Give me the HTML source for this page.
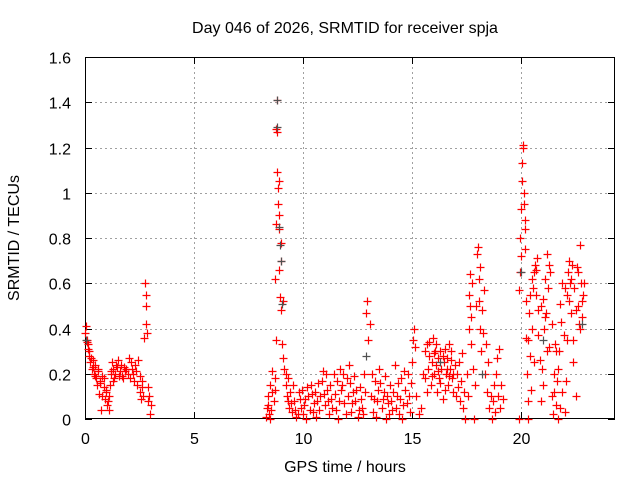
<!DOCTYPE html>
<html><head><meta charset="utf-8"><style>
html,body{margin:0;padding:0;background:#fff;}
svg{display:block;font-family:"Liberation Sans",sans-serif;}
</style></head><body>
<svg id="chart" width="640" height="480" viewBox="0 0 640 480" xmlns="http://www.w3.org/2000/svg">
<rect width="640" height="480" fill="#fff"/>
<g id="grid"></g>
<g id="axes"></g>
<g id="marks"></g>
<text x="345" y="33" font-size="16" text-anchor="middle" fill="#000">Day 046 of 2026, SRMTID for receiver spja</text>
<text x="345" y="472" font-size="16" text-anchor="middle" fill="#000">GPS time / hours</text>
<text transform="translate(19,238) rotate(-90)" font-size="16" text-anchor="middle" fill="#000">SRMTID / TECUs</text>
</svg>
<script>
const xTicks = [0, 5, 10, 15, 20];
const yTicks = [0, 0.2, 0.4, 0.6, 0.8, 1, 1.2, 1.4, 1.6];
const yTickLabels = ["0", "0.2", "0.4", "0.6", "0.8", "1", "1.2", "1.4", "1.6"];
const redTimes = [0.02,0.05,0.1,0.12,0.15,0.2,0.25,0.3,0.35,0.4,0.45,0.5,0.55,0.6,0.65,0.7,0.75,0.8,0.85,0.9,0.95,1.0,1.05,1.1,1.15,1.2,1.25,1.3,1.35,1.4,1.5,1.6,1.7,1.8,1.9,2.0,2.05,2.1,2.2,2.3,2.4,2.45,2.5,2.55,2.6,2.65,2.7,2.75,2.78,2.8,2.82,2.85,2.88,2.9,2.95,3.0,3.05,
0.08,0.18,0.28,0.38,0.48,0.58,0.68,0.78,0.88,0.98,1.08,1.18,1.28,1.38,1.45,1.55,1.65,1.75,1.85,1.95,2.15,2.25,2.35,2.5,2.62,
8.3,8.35,8.4,8.45,8.5,8.55,8.6,8.65,8.7,8.72,8.75,8.78,8.8,8.82,8.84,8.86,8.88,8.9,8.92,8.95,8.98,9.0,9.05,9.1,9.15,9.2,9.25,9.3,9.35,9.4,
8.4,8.5,8.6,8.7,8.75,8.8,8.9,9.0,9.1,9.2,9.3,
9.5,9.6,9.7,9.8,9.9,10.0,10.1,10.2,10.3,10.4,10.5,10.6,10.7,10.8,10.9,11.0,11.1,11.2,11.3,11.4,11.5,11.6,11.7,11.8,11.9,12.0,12.1,12.2,12.3,12.4,12.5,12.6,12.7,12.8,12.9,12.95,13.0,13.05,13.1,13.2,13.3,13.4,13.5,13.6,13.7,13.8,13.9,14.0,14.1,14.2,14.3,14.4,14.5,14.6,14.7,14.8,14.9,
9.45,9.55,9.65,9.75,9.85,9.95,10.05,10.15,10.25,10.35,10.45,10.55,10.65,10.75,10.85,10.95,11.05,11.15,11.25,11.35,11.45,11.55,11.65,11.75,11.85,11.95,12.05,12.15,12.25,12.35,12.45,12.55,12.65,12.75,12.85,13.15,13.25,13.35,13.45,13.55,13.65,13.75,13.85,13.95,14.05,14.15,14.25,14.35,14.45,14.55,14.65,14.75,14.85,14.95,
15.0,15.05,15.1,15.15,15.2,15.3,15.4,15.5,15.6,15.7,15.75,15.8,15.85,15.9,15.95,16.0,16.05,16.1,16.15,16.2,16.25,16.3,16.35,16.4,16.45,16.5,16.55,16.6,16.65,16.7,16.75,16.8,16.85,16.9,16.95,
15.6,15.7,15.8,15.9,16.0,16.1,16.2,16.3,16.4,16.5,16.6,16.7,16.8,16.9,
17.0,17.05,17.1,17.15,17.2,17.25,17.3,17.35,17.4,17.45,17.5,17.55,17.6,17.62,17.65,17.68,17.7,17.72,17.75,17.8,17.85,17.9,17.95,18.0,18.02,18.05,18.08,18.1,18.12,18.15,18.2,18.25,18.3,18.35,18.4,18.45,18.5,18.55,18.6,18.65,18.7,18.75,18.8,18.85,18.9,18.95,19.0,19.05,19.1,19.15,
19.9,19.92,19.95,19.97,20.0,20.02,20.04,20.06,20.08,20.1,20.12,20.14,20.16,20.18,20.2,20.22,20.25,20.28,20.3,20.33,20.36,20.4,20.45,20.5,20.55,20.6,20.65,20.7,20.75,20.8,20.85,20.9,20.95,21.0,21.05,21.1,21.15,21.2,21.25,21.3,21.35,21.4,21.45,21.5,21.55,21.6,21.65,21.7,21.75,21.8,21.85,21.9,21.95,22.0,22.05,22.1,22.15,22.2,22.25,22.3,22.35,22.4,22.45,22.5,22.55,22.6,22.65,22.7,22.75,22.8,22.85,22.9,
20.3,20.4,20.5,20.6,20.7,20.8,20.9,21.0,21.1,21.2,21.3,21.4,21.5,21.6,21.7,21.8,21.9,22.0,22.1,22.2,22.3,22.4,22.5,22.6,22.7,22.8];
const redValues = [0.38,0.41,0.35,0.33,0.31,0.28,0.25,0.22,0.26,0.2,0.24,0.18,0.15,0.21,0.11,0.17,0.04,0.19,0.14,0.09,0.12,0.06,0.08,0.04,0.15,0.2,0.25,0.22,0.18,0.24,0.26,0.21,0.19,0.23,0.22,0.27,0.18,0.25,0.2,0.24,0.15,0.26,0.12,0.09,0.17,0.1,0.36,0.6,0.5,0.55,0.42,0.38,0.14,0.08,0.1,0.02,0.06,
0.34,0.3,0.27,0.23,0.19,0.22,0.16,0.1,0.18,0.13,0.1,0.21,0.17,0.2,0.23,0.19,0.24,0.18,0.21,0.2,0.22,0.17,0.21,0.19,0.14,
0.01,0.05,0.1,0.02,0.15,0.04,0.21,0.08,0.13,0.62,0.86,1.28,1.41,1.09,1.02,0.95,0.9,0.84,0.66,0.54,0.7,0.48,0.33,0.27,0.22,0.15,0.1,0.18,0.05,0.12,
0.06,0.0,0.12,0.18,0.35,1.27,1.05,0.78,0.52,0.2,0.08,
0.03,0.08,0.01,0.12,0.05,0.02,0.09,0.14,0.04,0.11,0.07,0.01,0.16,0.1,0.21,0.06,0.13,0.02,0.09,0.2,0.04,0.0,0.22,0.15,0.07,0.18,0.24,0.03,0.12,0.08,0.01,0.14,0.05,0.2,0.47,0.52,0.35,0.42,0.1,0.03,0.17,0.08,0.22,0.05,0.12,0.0,0.07,0.15,0.04,0.24,0.1,0.02,0.18,0.06,0.13,0.2,0.03,
0.07,0.15,0.04,0.02,0.09,0.13,0.06,0.0,0.1,0.15,0.03,0.12,0.08,0.04,0.17,0.11,0.2,0.08,0.15,0.05,0.11,0.17,0.08,0.13,0.2,0.02,0.1,0.16,0.07,0.19,0.13,0.04,0.09,0.02,0.12,0.2,0.09,0.01,0.13,0.16,0.09,0.19,0.1,0.02,0.08,0.12,0.05,0.16,0.09,0.0,0.21,0.07,0.1,0.16,
0.25,0.35,0.4,0.32,0.1,0.02,0.05,0.2,0.3,0.33,0.22,0.28,0.15,0.25,0.36,0.2,0.3,0.24,0.12,0.27,0.18,0.3,0.22,0.09,0.25,0.31,0.2,0.27,0.15,0.33,0.22,0.26,0.18,0.12,0.24,
0.18,0.12,0.34,0.19,0.29,0.33,0.21,0.16,0.28,0.13,0.22,0.19,0.3,0.2,
0.1,0.2,0.14,0.25,0.08,0.17,0.29,0.05,0.12,0.0,0.2,0.1,0.4,0.55,0.64,0.5,0.33,0.45,0.6,0.22,0.0,0.15,0.5,0.73,0.76,0.62,0.52,0.4,0.67,0.3,0.48,0.38,0.57,0.2,0.33,0.12,0.25,0.05,0.1,0.0,0.08,0.15,0.03,0.2,0.27,0.1,0.31,0.05,0.15,0.09,
0.0,0.57,0.65,0.8,0.72,0.93,1.05,1.13,1.2,1.21,1.0,0.95,0.88,0.84,0.75,0.52,0.36,0.2,0.08,0.0,0.47,0.28,0.13,0.4,0.58,0.65,0.68,0.55,0.71,0.48,0.26,0.08,0.22,0.53,0.4,0.62,0.47,0.73,0.58,0.32,0.65,0.1,0.02,0.2,0.33,0.06,0.17,0.0,0.3,0.51,0.43,0.12,0.37,0.03,0.17,0.55,0.65,0.7,0.6,0.47,0.68,0.35,0.58,0.1,0.67,0.5,0.42,0.77,0.6,0.45,0.55,0.6,
0.35,0.55,0.62,0.25,0.66,0.37,0.5,0.15,0.45,0.3,0.68,0.42,0.12,0.3,0.22,0.05,0.6,0.58,0.35,0.52,0.62,0.25,0.48,0.65,0.4,0.52];
const grayTimes = [0.05,8.8,8.8,8.9,8.95,9.0,9.02,12.9,16.3,18.2,20.0,21.0,22.8];
const grayValues = [0.35,1.41,1.29,0.85,0.77,0.7,0.51,0.28,0.25,0.2,0.65,0.35,0.42];

const X0=85, X1=615, Y0=419, Y1=57, XMAX=24.31, YMAX=1.6;
const sx = t => X0 + (X1-X0)*t/XMAX;
const sy = v => Y0 - (Y0-Y1)*v/YMAX;
const NS="http://www.w3.org/2000/svg";
function mk(tag, attrs, parent){const e=document.createElementNS(NS,tag);for(const k in attrs)e.setAttribute(k,attrs[k]);parent.appendChild(e);return e;}
const grid=document.getElementById('grid'), axes=document.getElementById('axes'), marks=document.getElementById('marks');
xTicks.forEach(t=>{
  const x=Math.round(sx(t))+0.5;
  if(t>0){const g=mk('line',{x1:x,y1:Y0,x2:x,y2:Y1,stroke:'#a0a0a0','stroke-dasharray':'2,3','stroke-width':1},grid);
  
  }
  mk('line',{x1:x,y1:Y0,x2:x,y2:Y0-7,stroke:'#000'},axes);
  mk('line',{x1:x,y1:Y1,x2:x,y2:Y1+7,stroke:'#000'},axes);
  const tx=mk('text',{x:x,y:Y0+25,'font-size':16,'text-anchor':'middle',fill:'#000'},axes);
  tx.textContent=String(t);
  
  
});
yTicks.forEach((v,i)=>{
  const y=Math.round(sy(v))+0.5;
  if(v>0&&v<YMAX){const g=mk('line',{x1:X0,y1:y,x2:X1,y2:y,stroke:'#a0a0a0','stroke-dasharray':'2,3','stroke-width':1},grid);
  
  }
  mk('line',{x1:X0,y1:y,x2:X0+7,y2:y,stroke:'#000'},axes);
  mk('line',{x1:X1,y1:y,x2:X1-7,y2:y,stroke:'#000'},axes);
  const tx=mk('text',{x:X0-14,y:y+6,'font-size':16,'text-anchor':'end',fill:'#000'},axes);
  tx.textContent=yTickLabels[i];
  
  
});
const frame=mk('rect',{x:X0+0.5,y:Y1+0.5,width:X1-X0-1,height:Y0-Y1-1,fill:'none',stroke:'#000','stroke-width':1},axes);


function plus(t,v,color,name){
  const x=Math.round(sx(t))+0.5, y=Math.round(sy(v))+0.5;
  const p=mk('path',{d:`M${x-4} ${y}H${x+4}M${x} ${y-4}V${y+4}`,stroke:color,'stroke-width':1.2,fill:'none'},marks);
  
  
}
redTimes.forEach((t,i)=>plus(t,redValues[i],'#ff0000','srmtid-point'));
grayTimes.forEach((t,i)=>plus(t,grayValues[i],'#505050','srmtid-alt-point'));
</script>
</body></html>
